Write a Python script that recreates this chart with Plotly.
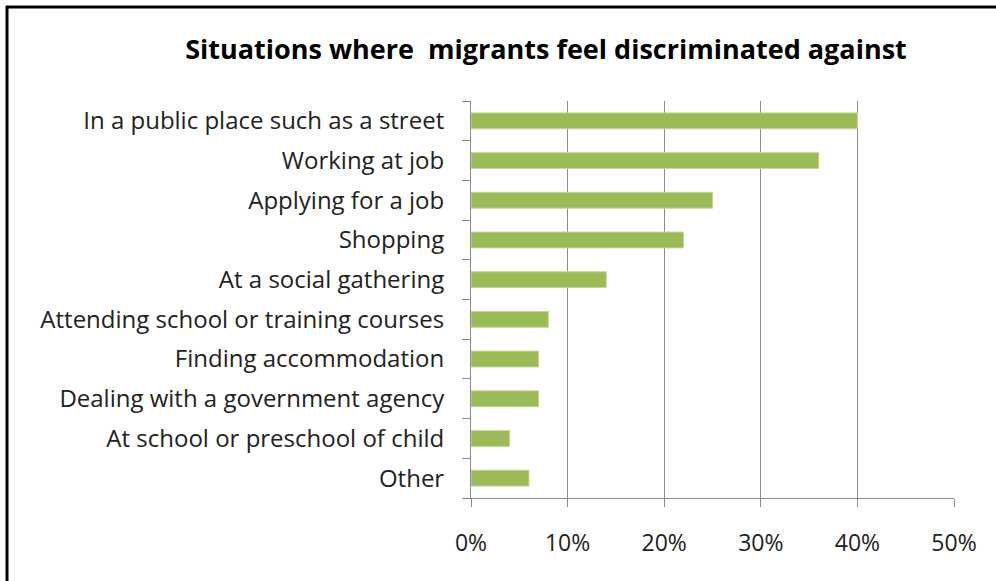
import plotly.graph_objects as go

categories = [
    "In a public place such as a street",
    "Working at job",
    "Applying for a job",
    "Shopping",
    "At a social gathering",
    "Attending school or training courses",
    "Finding accommodation",
    "Dealing with a government agency",
    "At school or preschool of child",
    "Other",
]
values = [40, 36, 25, 22, 14, 8, 7, 7, 4, 6]
x_ticks = [0, 10, 20, 30, 40, 50]
x_tick_labels = ["0%", "10%", "20%", "30%", "40%", "50%"]

W, H = 996, 581
L, R, T, B = 471, 954, 101, 498

fig = go.Figure(go.Bar(
    y=categories[::-1],
    x=values[::-1],
    orientation="h",
    marker=dict(color="#9BBB59", line=dict(color="#C3D69B", width=1)),
    width=0.4,
))

font_family = "Open Sans, Liberation Sans, sans-serif"

fig.update_layout(
    width=W, height=H,
    margin=dict(l=L, r=W - R, t=T, b=H - B, pad=0),
    paper_bgcolor="white", plot_bgcolor="white",
    showlegend=False,
    title=dict(
        text="<b>Situations where&nbsp; migrants feel discriminated against</b>",
        x=546 / W, xanchor="center", y=1 - 50 / H, yanchor="middle",
        font=dict(family=font_family, size=27, color="#000000"),
    ),
    xaxis=dict(
        range=[0, 50], tickvals=x_ticks, ticktext=x_tick_labels,
        showgrid=True, gridcolor="#8C8C8C", gridwidth=1,
        showline=True, linecolor="#8C8C8C", linewidth=1,
        ticks="outside", ticklen=8, tickcolor="#8C8C8C",
        tickfont=dict(family=font_family, size=23, color="#222222"),
        ticklabelstandoff=16, zeroline=False, fixedrange=True,
    ),
    yaxis=dict(
        type="category", categoryorder="array", categoryarray=categories[::-1],
        showgrid=False, showline=True, linecolor="#8C8C8C", linewidth=1,
        ticks="outside", ticklen=8, tickcolor="#8C8C8C", tickson="boundaries",
        tickfont=dict(family=font_family, size=24, color="#222222"),
        ticklabelstandoff=21, fixedrange=True,
    ),
)

px = lambda p: (p - L) / (R - L)
py = lambda p: (B - p) / (B - T)
fig.add_shape(type="line", xref="paper", yref="paper",
              x0=px(7), x1=px(7), y0=py(6), y1=py(600),
              line=dict(color="black", width=3))
fig.add_shape(type="line", xref="paper", yref="paper",
              x0=px(6), x1=px(1000), y0=py(7), y1=py(7),
              line=dict(color="black", width=3))

fig.write_html("out.html")
